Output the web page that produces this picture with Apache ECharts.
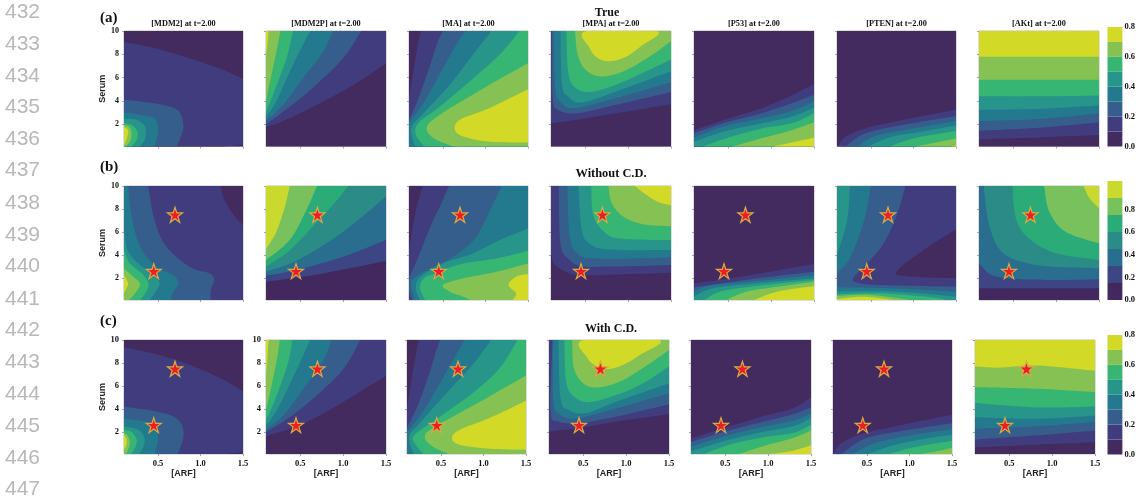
<!DOCTYPE html>
<html><head><meta charset="utf-8">
<style>html,body{margin:0;padding:0;background:#fff}#c{width:1138px;height:501px}</style>
<script src="https://cdn.jsdelivr.net/npm/echarts@6/dist/echarts.min.js"></script>
</head><body><div id="c"></div>
<script>
// Off-field corners used to close contour regions
const TL=[0,11],TR=[1.6,11],BL=[0,-1],BR=[1.6,-1];
const ALL=[BL,TL,TR,BR];

const xTicks=[0.5,1.0,1.5];
const yTicks=[2,4,6,8,10];
const species=['[MDM2]','[MDM2P]','[MA]','[MPA]','[P53]','[PTEN]','[AKt]'];
const rowLetters=['(a)','(b)','(c)'];
const rowHeads=['True','Without C.D.','With C.D.'];
const lineNumbers=[432,433,434,435,436,437,438,439,440,441,442,443,444,445,446,447];
const starPoints=[[0.45,2.6],[0.7,7.5]];
const barTicks=[0,0.2,0.4,0.6,0.8];
const barEdges8=[0,0.1,0.2,0.3,0.4,0.5,0.6,0.7,0.8];
const barEdges7=[0,0.15,0.3,0.45,0.6,0.75,0.9,1.05];
const colors8=['#432a5f','#413c7e','#355e8c','#237a8e','#28958a','#37b572','#86c253','#d2d926'];
const colors7=['#42285f','#3d4584','#296e8f','#2b8b87','#2bab77','#79c15c','#c9d92e'];

// Each contour: [band index, closed outline in (ARF, Serum)]
const a1=[[0,ALL],
[1,[TL,[.1,9.05],[.48,8.5],[.87,7.66],[1.27,6.66],[1.5,5.9],[1.6,3],[1.5,.25],[1.3,.1],BL]],
[2,[TL,[.1,4.1],[.3,3.95],[.6,3.6],[.75,3.1],[.8,1.8],[.76,.8],[.72,.1],BL]],
[3,[[.1,3.04],[.4,2.67],[.48,2.38],[.5,1.38],[.46,.1],BL]],
[4,[[.1,2.47],[.25,2.38],[.35,1.8],[.35,.8],[.29,.1],BL]],
[5,[[.1,2.1],[.19,1.95],[.26,1.38],[.25,.67],[.19,.1],BL]],
[6,[[.1,1.95],[.16,1.8],[.19,1.24],[.17,.5],[.12,.1],BL]],
[7,[[.1,1.8],[.14,1.6],[.15,1.24],[.12,.5],[.1,.2],BL]]];
const a2=[[0,ALL],
[1,[TL,[.1,1.73],[.376,2.52],[.765,3.95],[1.15,5.5],[1.5,7.23],TR]],
[2,[[.1,2],[.376,3.5],[.687,5.4],[1,7.66],[1.21,10],TL]],
[3,[[.1,2.3],[.3,3.67],[.53,5.95],[.765,8.2],[.88,10],TL]],
[4,[[.1,2.67],[.22,3.95],[.395,6.8],[.57,9.37],[.62,10],TL]],
[5,[[.1,3.1],[.18,4.5],[.34,7.66],[.415,10],TL]],
[6,[[.1,3.95],[.14,5.4],[.22,8.2],[.27,10],TL]],
[7,[[.1,7.9],[.12,9],[.13,10],TL]]];
const a3=[[0,ALL],
[1,[BL,[.1,4.2],[.15,6.5],[.21,9.1],[.24,10],TR,BR]],
[2,[BL,[.1,2.4],[.21,4.2],[.35,7.1],[.44,9.1],[.5,10],TR,BR]],
[3,[BL,[.1,2.1],[.27,3.8],[.5,6.8],[.68,9.1],[.77,10],TR,BR]],
[4,[[.17,.1],[.13,1.1],[.14,1.9],[.27,2.95],[.58,5.4],[.85,7.95],[1.07,10],TR,BR]],
[5,[[.28,.1],[.18,1.1],[.21,2.1],[.46,3.5],[.85,5.9],[1.17,8],[1.4,10],TR,BR]],
[6,[[.62,.1],[.39,.8],[.31,1.8],[.5,3],[1.05,5.4],[1.5,7.23],BR]],
[7,[[1.6,5],[1.5,5],[1.05,3.4],[.7,2.4],[.64,1.55],[.74,.95],[1.05,.5],[1.5,.45],[1.6,.45]]]];
const a4=[[0,ALL],
[1,[TL,[.1,2.1],[.41,2.4],[.86,2.95],[1.5,3.73],TR]],
[2,[[.11,10],[.12,4.3],[.19,3.2],[.41,2.95],[.86,3.67],[1.5,4.77],TR]],
[3,[[.13,10],[.15,5.1],[.21,3.96],[.37,3.38],[.86,4.25],[1.5,5.6],TR]],
[4,[[.21,10],[.23,5.4],[.3,4.4],[.46,3.87],[.86,4.82],[1.5,6.55],TR]],
[5,[[.28,10],[.3,6.55],[.37,5.25],[.55,4.77],[.86,5.4],[1.17,6.4],[1.5,7.56],TR]],
[6,[[.38,10],[.41,8],[.5,6.7],[.68,6.1],[.95,6.55],[1.26,7.85],[1.5,9.14],TR]],
[7,[[.51,10],[.55,8.57],[.64,7.7],[.77,7.4],[.95,7.7],[1.15,8.7],[1.33,10]]]];
const a5=[[0,ALL],
[1,[BL,[.1,1.5],[.44,2.37],[.89,3.38],[1.24,4.5],[1.5,5.46],BR]],
[2,[BL,[.1,1.22],[.44,2.09],[.89,2.95],[1.24,3.8],[1.5,4.53],BR]],
[3,[BL,[.1,.88],[.44,1.8],[.89,2.52],[1.24,3.15],[1.5,3.96],BR]],
[4,[BL,[.1,.5],[.44,1.37],[.89,2.09],[1.24,2.66],[1.5,3.44],BR]],
[5,[[.2,.1],[.26,.25],[.53,.93],[.89,1.65],[1.24,2.09],[1.5,2.95],BR]],
[6,[[.55,.1],[.89,.8],[1.24,1.5],[1.5,2.17],BR]],
[7,[[1.02,.1],[1.24,.45],[1.5,.85],BR]]];
const a6=[[0,ALL],
[1,[[.11,.1],[.2,.93],[.43,1.65],[.87,2.37],[1.5,3.24],BR]],
[2,[[.2,.1],[.43,1.22],[.87,1.94],[1.5,2.72],BR]],
[3,[[.34,.1],[.56,1.02],[1,1.65],[1.5,2.29],BR]],
[4,[[.47,.1],[.74,.93],[1.1,1.37],[1.5,1.89],BR]],
[5,[[.72,.1],[1,.79],[1.5,1.42],BR]],
[6,[[1.03,.1],[1.27,.45],[1.5,.79],BR]],
[7,[[1.45,.1],[1.5,.2],BR]]];
const a7=[[0,ALL],
[1,[TL,[.1,.73],[.8,.88],[1.5,1.08],TR]],
[2,[TL,[.1,1.45],[.8,1.7],[1.5,2.17],TR]],
[3,[TL,[.1,2.29],[.8,2.46],[1.5,2.95],TR]],
[4,[TL,[.1,3.24],[.8,3.33],[1.5,3.61],TR]],
[5,[TL,[.1,4.4],[.8,4.4],[1.5,4.48],TR]],
[6,[TL,[.1,5.83],[.8,5.83],[1.5,5.83],TR]],
[7,[TL,[.1,7.79],[.8,7.79],[1.5,7.79],TR]]];

const b1=[[0,ALL],
[1,[[1.24,10],[1.28,8.8],[1.38,7.6],[1.5,6.6],BR,BL,TL]],
[2,[[.385,10],[.46,7.03],[.6,4.72],[.87,2.99],[1.11,2.41],[1.16,1.83],[1.12,.97],[1.12,.1],BL,TL]],
[3,[[.15,10],[.19,7.3],[.29,4.72],[.48,2.99],[.68,2.26],[.74,1.54],[.68,.82],[.65,.1],BL,TL]],
[4,[[.1,6],[.15,4.3],[.29,3.13],[.46,2.12],[.52,1.54],[.46,.68],[.4,.1],BL]],
[5,[[.1,4.43],[.17,3.27],[.33,2.26],[.39,1.48],[.35,.68],[.29,.1],BL]],
[6,[[.1,2.84],[.21,2.12],[.29,1.48],[.23,.68],[.16,.1],BL]],
[7,[[.1,2.26],[.15,1.54],[.11,.82],[.1,.68],[0,1.5]]]];
const b2=[[0,ALL],
[1,[TL,[.1,1.69],[.765,2.41],[1.5,3.48],TR]],
[2,[TL,[.1,2.2],[.454,2.7],[1,3.85],[1.5,5.3],TR]],
[3,[TL,[.1,2.55],[.454,3.5],[.92,5.6],[1.25,7.5],[1.5,9.1],TR]],
[4,[[.1,3],[.376,4.4],[.687,6.8],[.92,8.7],[1.06,10],TL]],
[5,[[.1,3.56],[.376,5.3],[.57,7.9],[.695,10],TL]],
[6,[[.1,4.49],[.22,6],[.32,8.2],[.376,10],TL]]];
const b3=[[0,ALL],
[1,[BL,[.1,4.3],[.15,6.74],[.21,8.76],[.26,10],TR,BR]],
[2,[[.13,.1],[.1,.9],[0,1.5],[.1,1.97],[.21,3.85],[.35,6.45],[.48,8.47],[.57,10],TR,BR]],
[3,[[.17,.1],[.13,1.1],[.15,1.97],[.39,2.99],[.62,3.85],[.89,5.58],[1.09,8.47],[1.19,10],TR,BR]],
[4,[[.23,.1],[.18,1.1],[.23,2.06],[.5,3.27],[.85,4.14],[1.17,5.3],[1.5,6.3],BR]],
[5,[[.29,.1],[.23,1.1],[.27,1.95],[.42,2.47],[.74,3.27],[1.13,3.7],[1.5,4.37],BR]],
[6,[[.82,.1],[.74,.39],[.58,.82],[.5,1.4],[.74,1.98],[1.13,2.55],[1.5,3.27],BR]],
[7,[[1.6,2.35],[1.5,2.35],[1.36,2.12],[1.27,1.4],[1.36,.68],[1.32,.1],BR]]];
const b4=[[0,ALL],
[1,[TL,[.1,4],[.145,3.13],[.32,2.41],[.55,2.26],[1.5,2.47],TR]],
[2,[[.19,10],[.21,5],[.3,3.7],[.46,3.04],[.86,3],[1.5,3.13],TR]],
[3,[[.29,10],[.32,5.6],[.41,4.14],[.64,3.7],[1.5,3.8],TR]],
[4,[[.42,10],[.46,6.16],[.55,5],[.77,4.49],[1.5,4.43],TR]],
[5,[[.57,10],[.59,7.6],[.7,6.16],[.9,5.44],[1.5,5.3],TR]],
[6,[[.77,10],[.81,8.47],[.95,7.3],[1.17,6.68],[1.5,6.5],TR]],
[7,[[1.08,10],[1.22,9.19],[1.35,8.61],[1.5,8.32],TR]]];
const b5=[[0,ALL],
[1,[BL,[.1,1.54],[.75,2.26],[1.5,3.22],BR]],
[2,[BL,[.1,1.2],[.75,1.89],[1.5,2.55],BR]],
[3,[BL,[.1,.82],[.31,1.4],[.75,1.69],[1.5,2.26],BR]],
[4,[BL,[.1,.39],[.31,1.1],[.75,1.49],[1.5,1.98],BR]],
[5,[[.22,.1],[.4,.82],[.75,1.25],[1.5,1.83],BR]],
[6,[[.48,.1],[.71,.82],[1.07,1.25],[1.5,1.69],BR]],
[7,[[.8,.1],[1.07,.82],[1.5,1.31],BR]]];
const b6=[[0,ALL],
[1,[BL,BR,[1.6,1.98],[1.5,1.98],[.96,2.13],[.8,2.56],[1.12,4.44],[1.5,6.24],TR,TL]],
[2,[[.905,10],[.81,7.63],[.65,5.02],[.42,3],[.29,1.98],[.34,1.6],[.61,1.4],[1.5,1.26],BR,BL,TL]],
[3,[[.5,10],[.42,7.05],[.26,3.86],[.1,2.42],TL]],
[3,[BL,[.1,1.2],[.8,1.1],[1.5,.82],BR]],
[4,[[.25,10],[.22,7.05],[.1,4],TL]],
[4,[BL,[.1,.82],[.81,.82],[1.5,.39],BR]],
[5,[BL,[.1,.6],[.61,.68],[1.2,.33],[1.39,.1]]],
[6,[BL,[.1,.45],[.5,.53],[.96,.1]]],
[7,[BL,[.1,.2],[.42,.39],[.77,.1]]]];
const b7=[[0,ALL],
[1,[TL,[.1,1.11],[1.5,1.11],TR]],
[2,[TL,[.1,3.28],[.25,2.27],[.53,1.92],[1.03,1.84],[1.5,1.9],TR]],
[3,[[.155,10],[.21,6.9],[.33,4.59],[.53,3.57],[.92,3],[1.5,2.85],TR]],
[4,[[.49,10],[.53,7.2],[.68,5.46],[1,4.15],[1.5,3.57],TR]],
[5,[[.86,10],[.92,7.77],[1.11,6.03],[1.5,5.02],TR]],
[6,[[1.32,10],[1.39,8.93],[1.5,8.06],TR]]];

const c1=[[0,ALL],
[1,[TL,[.1,9.34],[.48,8.76],[.88,7.83],[1.27,6.54],[1.5,5.52],[1.6,3],[1.5,.27],[1.3,.1],BL]],
[2,[TL,[.1,4.23],[.48,3.8],[.68,3.36],[.78,2.64],[.8,1.63],[.76,.62],[.73,.1],BL]],
[3,[[.1,3.16],[.37,2.87],[.48,2.2],[.5,1.34],[.46,.1],BL]],
[4,[[.1,2.5],[.27,2.2],[.34,1.49],[.33,.76],[.28,.1],BL]],
[5,[[.1,2.2],[.19,2],[.25,1.34],[.23,.62],[.18,.1],BL]],
[6,[[.1,1.92],[.14,1.72],[.17,1.05],[.14,.33],[.12,.1],BL]],
[7,[[.1,1.72],[.13,1.43],[.13,.9],[.1,.48],[0,1]]]];
const c2=[[0,ALL],
[1,[TL,[.1,1.63],[.46,2.5],[.78,3.65],[1.17,5.38],[1.5,6.88],TR]],
[2,[[.1,2],[.39,3.36],[.7,5.24],[1.01,7.55],[1.2,10],TL]],
[3,[[.1,2.2],[.31,3.5],[.54,5.8],[.78,8.4],[.86,10],TL]],
[4,[[.1,2.58],[.23,3.94],[.41,6.68],[.58,9.42],[.61,10],TL]],
[5,[[.1,3.07],[.19,4.52],[.35,7.83],[.41,10],TL]],
[6,[[.1,3.94],[.15,5.53],[.23,8.41],[.26,10],TL]],
[7,[[.1,7],[.12,8.7],[.13,10],TL]]];
const c3=[[0,ALL],
[1,[BL,[.1,4.08],[.15,6.39],[.21,9],[.24,10],TR,BR]],
[2,[BL,[.1,2.35],[.23,4.37],[.37,7.26],[.44,9],[.49,10],TR,BR]],
[3,[BL,[.1,2],[.29,3.8],[.52,6.68],[.7,9],[.78,10],TR,BR]],
[4,[[.18,.1],[.13,1.1],[.14,1.9],[.25,2.78],[.6,5.67],[.87,7.83],[1.09,10],TR,BR]],
[5,[[.29,.1],[.19,1.05],[.19,1.77],[.46,3.2],[.87,5.38],[1.19,7.55],[1.4,10],TR,BR]],
[6,[[.6,.1],[.4,.76],[.31,1.63],[.44,2.5],[1.07,5.09],[1.5,6.91],BR]],
[7,[[1.6,4.72],[1.5,4.72],[1.07,3.22],[.72,2.2],[.63,1.49],[.72,.91],[1.07,.56],[1.5,.48],[1.6,.48]]]];
const c4=[[0,ALL],
[1,[TL,[.1,2.06],[.44,2.35],[.89,2.93],[1.5,3.56],TR]],
[2,[[.14,10],[.12,3.8],[.21,2.93],[.44,2.78],[.89,3.36],[1.5,4.43],TR]],
[3,[[.145,10],[.15,4.66],[.21,3.65],[.39,3.16],[.89,4.08],[1.5,5.38],TR]],
[4,[[.21,10],[.235,4.95],[.33,3.94],[.53,3.65],[.89,4.66],[1.5,6.25],TR]],
[5,[[.28,10],[.3,6.39],[.39,5.09],[.57,4.6],[.89,5.24],[1.2,6.25],[1.5,7.69],TR]],
[6,[[.37,10],[.39,7.55],[.5,6.25],[.66,5.87],[.93,6.39],[1.25,7.83],[1.5,9.13],TR]],
[7,[[.5,10],[.55,8.41],[.66,7.69],[.78,7.46],[.96,7.83],[1.16,8.7],[1.38,10]]]];
const c5=[[0,ALL],
[1,[BL,[.1,1.43],[.48,2.35],[.93,3.36],[1.29,4.08],[1.5,5.03],BR]],
[2,[BL,[.1,1.14],[.48,2],[.93,2.87],[1.29,3.56],[1.5,4.17],BR]],
[3,[BL,[.1,.76],[.48,1.63],[.93,2.44],[1.29,2.99],[1.5,3.59],BR]],
[4,[BL,[.1,.33],[.48,1.2],[.93,2],[1.29,2.5],[1.5,3.22],BR]],
[5,[[.25,.1],[.57,.97],[.93,1.54],[1.29,1.92],[1.5,2.64],BR]],
[6,[[.66,.1],[.93,.76],[1.29,1.49],[1.5,2.15],BR]],
[7,[[1.02,.1],[1.29,.39],[1.5,.85],BR]]];
const c6=[[0,ALL],
[1,[[.1,.1],[.2,1.05],[.47,1.92],[.92,2.64],[1.5,3.5],BR]],
[2,[[.2,.1],[.47,1.43],[.92,2.12],[1.5,2.78],BR]],
[3,[[.33,.1],[.6,1.05],[1.05,1.77],[1.5,2.26],BR]],
[4,[[.51,.1],[.83,.91],[1.19,1.43],[1.5,1.77],BR]],
[5,[[.76,.1],[1.05,.68],[1.5,1.25],BR]],
[6,[[1.14,.1],[1.32,.33],[1.5,.62],BR]]];
const c7=[[0,ALL],
[1,[TL,[.1,.68],[.82,.91],[1.5,1.11],TR]],
[2,[TL,[.1,1.34],[.82,1.72],[1.5,2.15],TR]],
[3,[TL,[.1,2.29],[.82,2.5],[1.5,2.87],TR]],
[4,[TL,[.1,3.3],[.82,3.16],[1.5,3.45],TR]],
[5,[TL,[.1,4.52],[.82,4.14],[1.5,4.23],TR]],
[6,[TL,[.1,5.9],[.82,5.76],[1.5,5.47],TR]],
[7,[TL,[.1,7.69],[.37,7.6],[.82,7.78],[1.5,7.32],TR]]];

const panels=[[a1,a2,a3,a4,a5,a6,a7],[b1,b2,b3,b4,b5,b6,b7],[c1,c2,c3,c4,c5,c6,c7]];
const palettes=[[0,0,0,0,0,0,0],[0,1,0,0,0,0,1],[0,0,0,0,0,0,0]];

// Layout in pixels
const rowTop=[31,186,340], rowH=[115.5,114,114];
const colLeft=[[124,266,409,551,694,837,979],[124,266,409,551,694,837,979],[124,266,407,549,691,833,975]];
const colW=[119,120,119,120,120,119,120];
const barRect=[[1107.5,27,16,119.5],[1107.5,181,15.5,119],[1107.5,335,16,119.5]];

const serif='"Liberation Serif","Times New Roman",serif', sans='"Liberation Sans",Arial,sans-serif';

function inField(p){return p[0]>=0.0999&&p[0]<=1.5001&&p[1]>=0.0999&&p[1]<=10.0001;}
function outline(pts,api){
  const n=pts.length, q=pts.map(p=>api.coord(p));
  let d='M'+q[0][0]+' '+q[0][1];
  for(let i=0;i<n;i++){
    const j=(i+1)%n,h=(i-1+n)%n,k=(i+2)%n;
    if(!inField(pts[i])||!inField(pts[j])){d+='L'+q[j][0]+' '+q[j][1];continue;}
    const p0=inField(pts[h])?q[h]:q[i], p3=inField(pts[k])?q[k]:q[j];
    const c1=[q[i][0]+(q[j][0]-p0[0])/6,q[i][1]+(q[j][1]-p0[1])/6];
    const c2=[q[j][0]-(p3[0]-q[i][0])/6,q[j][1]-(p3[1]-q[i][1])/6];
    d+='C'+c1[0]+' '+c1[1]+' '+c2[0]+' '+c2[1]+' '+q[j][0]+' '+q[j][1];
  }
  return d+'Z';
}

const grids=[],xAxes=[],yAxes=[],series=[],graphics=[];
const tickStyle={show:true,length:2,lineStyle:{color:'#a5a5a5',width:1}};
const lbl={fontFamily:serif,fontWeight:'bold',color:'#111'};
panels.forEach((row,r)=>row.forEach((bands,c)=>{
  const idx=grids.length;
  grids.push({left:colLeft[r][c],top:rowTop[r],width:colW[c],height:rowH[r],show:true,borderColor:'#bdbdbd',borderWidth:1,backgroundColor:'transparent'});
  xAxes.push({type:'value',gridIndex:idx,min:0.1,max:1.5,
    name:r===2?'[ARF]':'',nameLocation:'middle',nameGap:13,nameTextStyle:{fontFamily:sans,fontSize:9,fontWeight:'bold',color:'#222'},
    axisLine:{show:false},splitLine:{show:false},
    axisTick:Object.assign({customValues:xTicks},tickStyle),
    axisLabel:{show:r===2,customValues:xTicks,formatter:v=>v.toFixed(1),margin:5,fontSize:8.5,...lbl}});
  yAxes.push({type:'value',gridIndex:idx,min:0.1,max:10,
    name:c===0?'Serum':'',nameLocation:'middle',nameGap:15,nameTextStyle:{fontFamily:sans,fontSize:9,fontWeight:'bold',color:'#222'},
    axisLine:{show:false},splitLine:{show:false},
    axisTick:Object.assign({customValues:yTicks},tickStyle),
    axisLabel:{show:c===0||(r===2&&c===1),customValues:yTicks,margin:5,fontSize:r===2?8.5:8,...lbl}});
  const pal=palettes[r][c]?colors7:colors8;
  series.push({type:'custom',coordinateSystem:'cartesian2d',xAxisIndex:idx,yAxisIndex:idx,clip:true,silent:true,z:2,animation:false,
    data:bands.map(b=>[b[0]]),
    renderItem:(params,api)=>{
      const b=bands[params.dataIndex];
      return {type:'path',shape:{pathData:outline(b[1],api)},style:{fill:pal[b[0]]}};
    }});
  if(r>0) series.push({type:'scatter',xAxisIndex:idx,yAxisIndex:idx,z:5,silent:true,animation:false,
    symbol:'path://M50 0L62 36L100 36L69 58L81 95L50 72L19 95L31 58L0 36L38 36Z',symbolSize:15,
    itemStyle:{color:'#ee1c25',borderColor:'#d8aa45',borderWidth:1.2,opacity:1},data:starPoints});
}));

barRect.forEach((b,r)=>{
  const idx=grids.length, edges=r===1?barEdges7:barEdges8, pal=r===1?colors7:colors8;
  grids.push({left:b[0],top:b[1],width:b[2],height:b[3]});
  xAxes.push({type:'value',gridIndex:idx,min:0,max:1,show:false});
  yAxes.push({type:'value',gridIndex:idx,position:'right',min:0,max:edges[edges.length-1],
    axisLine:{show:false},axisTick:{show:false},splitLine:{show:false},
    axisLabel:{customValues:barTicks,formatter:v=>v.toFixed(1),margin:2,fontSize:8.5,...lbl}});
  series.push({type:'custom',coordinateSystem:'cartesian2d',xAxisIndex:idx,yAxisIndex:idx,silent:true,animation:false,
    data:edges.slice(0,-1).map((e,i)=>[e,edges[i+1]]),
    renderItem:(params,api)=>{
      const p=api.coord([0,api.value(1)]), q=api.coord([1,api.value(0)]);
      return {type:'rect',shape:{x:p[0],y:p[1],width:q[0]-p[0],height:q[1]-p[1]},style:{fill:pal[params.dataIndex]}};
    }});
});

function text(x,y,s,font,fill,align){
  graphics.push({type:'text',x:x,y:y,silent:true,style:{text:s,font:font,fill:fill,align:align||'center',verticalAlign:'middle'}});
}
lineNumbers.forEach((n,i)=>text(22.5,[12,44,76,107,139,170,203,235,266,299,330,362,394,426,458,489][i],String(n),'21px '+sans,'#b8b8b8'));
species.forEach((s,c)=>text(colLeft[0][c]+colW[c]/2,24,s+' at t=2.00','bold 8.3px '+serif,'#111'));
[18,167,321].forEach((y,r)=>text(100,y,rowLetters[r],'bold 15px '+serif,'#111','left'));
text(607,13,rowHeads[0],'bold 12px '+serif,'#111');
text(611,174,rowHeads[1],'bold 12.4px '+serif,'#111');
text(611,328.5,rowHeads[2],'bold 12px '+serif,'#111');

const chart=echarts.init(document.getElementById('c'),null,{renderer:'canvas'});
chart.setOption({animation:false,grid:grids,xAxis:xAxes,yAxis:yAxes,series:series,graphic:graphics});
</script></body></html>
